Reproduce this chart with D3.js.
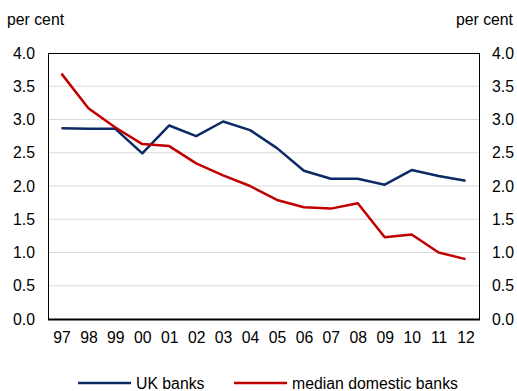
<!DOCTYPE html>
<html>
<head>
<meta charset="utf-8">
<script src="https://cdn.jsdelivr.net/npm/d3@7"></script>
<style>
body { margin: 0; background: #fff; }
text { font-family: "Liberation Sans", Arial, sans-serif; fill: #000; }
</style>
</head>
<body>
<div id="chart"></div>
<script>
var years = ["97","98","99","00","01","02","03","04","05","06","07","08","09","10","11","12"];
var ukBanks = [2.87,2.86,2.86,2.49,2.91,2.75,2.97,2.84,2.57,2.23,2.11,2.11,2.02,2.24,2.15,2.08];
var medianDomestic = [3.69,3.17,2.88,2.63,2.60,2.34,2.16,2.00,1.79,1.68,1.66,1.74,1.23,1.27,1.00,0.90];
var yTicks = [0,0.5,1,1.5,2,2.5,3,3.5,4];

var W = 517, H = 391;
var FS = "15.8px";
var margin = {top: 53, right: 38, bottom: 72, left: 48},
	width = W - margin.left - margin.right,
	height = H - margin.top - margin.bottom;

var svg = d3.select("#chart")
	.append("svg")
	.attr("width", W)
	.attr("height", H);

var g = svg.append("g")
	.attr("transform", "translate(" + margin.left + "," + margin.top + ")");

var x = d3.scalePoint()
	.domain(years)
	.range([0, width])
	.padding(0.5);

var y = d3.scaleLinear()
	.domain([0, 4])
	.range([height, 0]);

// gridlines
g.append("g")
	.selectAll("line")
	.data(yTicks.slice(1, -1))
	.enter()
	.append("line")
	.attr("x1", 0)
	.attr("x2", width)
	.attr("y1", function (d) { return y(d); })
	.attr("y2", function (d) { return y(d); })
	.attr("stroke", "#d9d9d9")
	.attr("stroke-width", 1);

// frame
g.append("rect")
	.attr("x", 0.5)
	.attr("y", 0.5)
	.attr("width", width)
	.attr("height", height)
	.attr("fill", "none")
	.attr("stroke", "#000")
	.attr("stroke-width", 1);

g.append("line")
	.attr("x1", 0).attr("x2", width + 1)
	.attr("y1", height + 0.5).attr("y2", height + 0.5)
	.attr("stroke", "#000").attr("stroke-width", 2);

// y labels both sides
var fmt = d3.format(".1f");
var yl = d3.axisLeft(y).tickValues(yTicks).tickSize(0).tickPadding(13).tickFormat(fmt);
var yr = d3.axisRight(y).tickValues(yTicks).tickSize(0).tickPadding(13).tickFormat(fmt);

g.append("g").call(yl)
	.call(function (s) { s.select(".domain").remove(); })
	.selectAll("text").style("font-size", FS).style("font-family", "Liberation Sans, Arial, sans-serif");

g.append("g").attr("transform", "translate(" + width + ",0)").call(yr)
	.call(function (s) { s.select(".domain").remove(); })
	.selectAll("text").style("font-size", FS).style("font-family", "Liberation Sans, Arial, sans-serif");

// x labels
g.append("g").attr("transform", "translate(0," + height + ")")
	.call(d3.axisBottom(x).tickSize(0).tickPadding(13))
	.call(function (s) { s.select(".domain").remove(); })
	.selectAll("text").style("font-size", FS).style("font-family", "Liberation Sans, Arial, sans-serif");

// units
svg.append("text").attr("x", 7).attr("y", 25).style("font-size", FS).text("per cent");
svg.append("text").attr("x", 513).attr("y", 25).attr("text-anchor", "end").style("font-size", FS).text("per cent");

// lines
var series = [
	{name: "UK banks", values: ukBanks, color: "#0b2a66"},
	{name: "median domestic banks", values: medianDomestic, color: "#c00000"}
];

var line = d3.line()
	.x(function (d, i) { return x(years[i]); })
	.y(function (d) { return y(d); });

series.forEach(function (s) {
	g.append("path")
		.datum(s.values)
		.attr("d", line)
		.attr("fill", "none")
		.attr("stroke", s.color)
		.attr("stroke-width", 2.5)
		.attr("stroke-linejoin", "round");
});

// legend
var legendX = [78, 234];
var leg = svg.append("g");
series.forEach(function (s, i) {
	leg.append("line")
		.attr("x1", legendX[i]).attr("x2", legendX[i] + 53)
		.attr("y1", 383).attr("y2", 383)
		.attr("stroke", s.color).attr("stroke-width", 2.5);
	leg.append("text")
		.attr("x", legendX[i] + 58).attr("y", 388.5)
		.style("font-size", FS)
		.text(s.name);
});
</script>
</body>
</html>
